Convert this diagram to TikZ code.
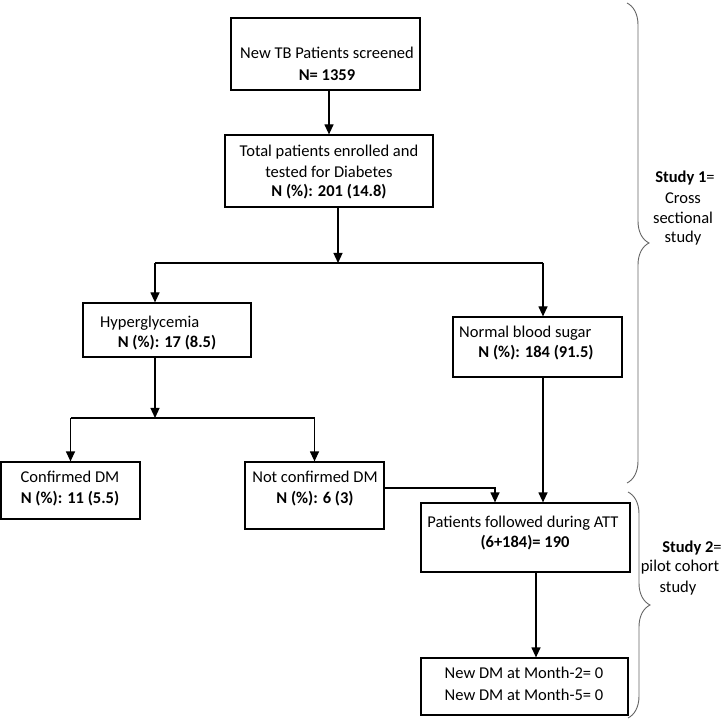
\documentclass[tikz,border=0pt]{standalone}
\usepackage{fontspec}
\setmainfont{Carlito}
\usetikzlibrary{arrows.meta,decorations.pathreplacing,calc}
\begin{document}
\begin{tikzpicture}[x=1pt,y=-1pt,
  box/.style={draw=black,line width=1.2pt,inner sep=0pt,rectangle},
  txt/.style={inner sep=0pt,font=\fontsize{16.5}{20}\selectfont},
  arr/.style={line width=1.2pt,-{Triangle[length=10pt,width=9pt]}},
  ln/.style={line width=1.2pt},
  brc/.style={draw=black!60,line width=0.9pt,decorate,decoration={brace,amplitude=22pt}}]
\useasboundingbox (0,0) rectangle (726,719);
% boxes
\node[box,minimum width=189pt,minimum height=72pt] (b1) at (325.5,54) {};
\node[box,minimum width=208pt,minimum height=72pt] (b2) at (329,171) {};
\node[box,minimum width=168pt,minimum height=54pt] (b3) at (167,330) {};
\node[box,minimum width=169pt,minimum height=60pt] (b4) at (537.5,347) {};
\node[box,minimum width=139pt,minimum height=57pt] (b5) at (70.5,490.5) {};
\node[box,minimum width=139pt,minimum height=67pt] (b6) at (314.5,495.5) {};
\node[box,minimum width=209pt,minimum height=69pt] (b7) at (525.5,537.5) {};
\node[box,minimum width=207pt,minimum height=57pt] (b8) at (524.5,686.5) {};
% texts
\node[txt] (t1a) at (327,53) {New TB Patients screened};
\node[txt] (t1b) at (327,75) {\textbf{N= 1359}};
\node[txt] (t2a) at (329,152) {Total patients enrolled and};
\node[txt] (t2b) at (329,172) {tested for Diabetes};
\node[txt] (t2c) at (329,192) {\textbf{N (\%): 201 (14.8)}};
\node[txt,anchor=west] (t3a) at (100,323) {Hyperglycemia};
\node[txt] (t3b) at (167,343) {\textbf{N (\%): 17 (8.5)}};
\node[txt,anchor=west] (t4a) at (459,333) {Normal blood sugar};
\node[txt] (t4b) at (536,353) {\textbf{N (\%): 184 (91.5)}};
\node[txt] (t5a) at (70,477) {Confirmed DM};
\node[txt] (t5b) at (70,499) {\textbf{N (\%): 11 (5.5)}};
\node[txt] (t6a) at (315,477) {Not confirmed DM};
\node[txt] (t6b) at (315,499) {\textbf{N (\%): 6 (3)}};
\node[txt] (t7a) at (523,523) {Patients followed during ATT};
\node[txt] (t7b) at (525,543) {\textbf{(6+184)= 190}};
\node[txt] (t8a) at (524,673) {New DM at Month-2= 0};
\node[txt] (t8b) at (524,695) {New DM at Month-5= 0};
% study labels
\node[txt] (s1a) at (685,178) {\textbf{Study 1}=};
\node[txt] (s1b) at (683,198) {Cross};
\node[txt] (s1c) at (683,218) {sectional};
\node[txt] (s1d) at (683,238) {study};
\node[txt] (s2a) at (692,548) {\textbf{Study 2}=};
\node[txt] (s2b) at (680,567) {pilot cohort};
\node[txt] (s2c) at (678,588) {study};
% braces
\coordinate (br1t) at (627,3);
\coordinate (br1b) at (627,483);
\coordinate (br2t) at (628,492);
\coordinate (br2b) at (628,718);
\draw[brc] (br1t) -- (br1b);
\draw[brc] (br2t) -- (br2b);
% junction coordinates
\coordinate (s1) at (338,263);
\coordinate (s1L) at (155,263);
\coordinate (s1R) at (543,263);
\coordinate (s2) at (155,418);
\coordinate (s2L) at (70.5,418);
\coordinate (s2R) at (314.5,418);
\coordinate (j) at (495,488);
\coordinate (k) at (536,600);
% connectors
\draw[arr] (b1.south -| b2.north) -- (b2.north);
\draw[arr] (b2.south -| s1) -- (s1);
\draw[ln] (s1L) -- (s1R);
\draw[arr] (s1L) -- (s1L |- b3.north);
\draw[arr] (s1R) -- (s1R |- b4.north);
\draw[arr] (b3.south -| s2) -- (s2);
\draw[ln] (s2L) -- (s2R);
\draw[arr] (s2L) -- (b5.north);
\draw[arr] (s2R) -- (b6.north);
\draw[arr] (j -| b6.east) -- (j) -- (j |- b7.north);
\draw[arr] (b4.south -| s1R) -- (b7.north -| s1R);
\draw[arr] (b7.south -| k) -- (b8.north -| k);
\end{tikzpicture}
\end{document}
